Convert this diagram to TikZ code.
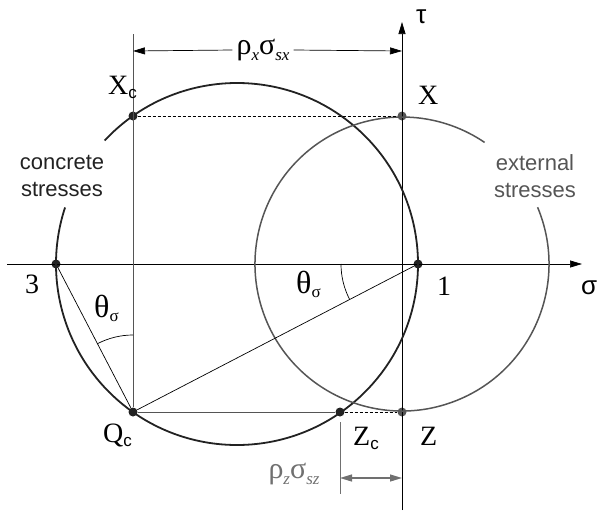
\documentclass[tikz,border=0pt]{standalone}
\usepackage{fontspec}
\setmainfont{Liberation Serif}
\newfontfamily\sansf{Liberation Sans}
\usetikzlibrary{arrows.meta}
\definecolor{dark}{HTML}{222222}
\definecolor{ext}{HTML}{555555}
\definecolor{lgray}{HTML}{707070}
\newcommand\mysub[2]{\raisebox{-#1}{\fontsize{17}{17}\selectfont #2}}
\begin{document}
\begin{tikzpicture}[x=1pt,y=-1pt,
  tipr/.style={-{Triangle[length=12pt,width=7pt]}},
  tipb/.style={{Triangle[length=12pt,width=7pt]}-{Triangle[length=12pt,width=7pt]}},
  dotb/.style={circle,fill=dark,inner sep=0pt,minimum size=9pt},
  dotg/.style={circle,fill=ext,inner sep=0pt,minimum size=9pt},
  lbl/.style={font=\fontsize{28}{28}\selectfont,inner sep=0pt,anchor=base west},
  axlbl/.style={font=\sansf\fontsize{26}{26}\selectfont,inner sep=0pt,anchor=base west},
  dimlbl/.style={font=\fontsize{30}{30}\selectfont,inner sep=0pt},
  note/.style={font=\sansf\fontsize{22}{27}\selectfont,align=center,inner sep=0pt},
  thin/.style={line width=0.7pt},
  dotted line/.style={line width=0.9pt,dash pattern=on 3pt off 2pt}
]
\useasboundingbox (0,0) rectangle (598,512);

% points
\coordinate (Cc) at (237,264);
\coordinate (Ce) at (402,264);
\node[dotb] (P3) at (56,264) {};
\node[dotb] (P1) at (418,264) {};
\node[dotb] (Xc) at (133,116) {};
\node[dotb] (Qc) at (133,412) {};
\node[dotb] (Zc) at (340,412) {};
\node[dotg] (X) at (402,116) {};
\node[dotg] (Z) at (402,412) {};

% axes
\coordinate (axL) at (7,264);
\coordinate (axR) at (582,264);
\coordinate (tauB) at (402,510);
\coordinate (tauT) at (402,22);
\draw[thin,tipr] (axL) -- (axR);
\draw[thin,tipr] (tauB) -- (tauT);

% circles with gaps
\draw[dark,line width=1.8pt] (Cc) ++(223:181) arc[start angle=223,end angle=558.2,radius=181];
\draw[ext,line width=1.5pt] (Ce) ++(337.3:147) arc[start angle=337.3,end angle=664.2,radius=147];

% construction lines
\coordinate (tickXc) at (133,34);
\draw[thin,ext] (tickXc) -- (Qc);
\draw[thin] (Qc) -- (P3);
\draw[thin] (Qc) -- (P1);
\draw[thin,ext] (Qc) -- (Zc);
\draw[dotted line] (Zc) -- (Z);
\draw[dotted line] (Xc) -- (X);

% angle arcs
\draw[thin] (Qc) ++(-117.5:77) arc[start angle=-117.5,end angle=-90,radius=77];
\draw[thin] (P1) ++(152.6:77) arc[start angle=152.6,end angle=180,radius=77];

% top dimension
\coordinate (dxL) at (133,51);
\coordinate (dxR) at (402,51);
\node[dimlbl] (rx) at (263,50) {ρ\mysub{0.2em}{\textit{x}}σ\mysub{0.2em}{\textit{sx}}};
\draw[thin,tipr] (rx.west) ++(-4,0) -- (dxL);
\draw[thin,tipr] (rx.east) ++(4,0) -- (dxR);

% bottom dimension
\coordinate (tickZt) at (340,422);
\coordinate (tickZb) at (340,494);
\coordinate (dzL) at (340,478);
\coordinate (dzR) at (402,478);
\draw[lgray,line width=1pt] (tickZt) -- (tickZb);
\draw[lgray,line width=1.2pt,tipb] (dzL) -- (dzR);
\node[dimlbl,text=lgray] (rz) at (294,474) {ρ\mysub{0.2em}{\textit{z}}σ\mysub{0.2em}{\textit{sz}}};

% labels
\node[lbl] (lXc) at (108,94) {X\mysub{0.15em}{\sansf c}};
\node[lbl] (lX) at (418,104) {X};
\node[lbl] (l3) at (25,293) {3};
\node[lbl] (l1) at (437,295) {1};
\node[lbl] (lQc) at (103,442) {Q\mysub{0.15em}{\sansf c}};
\node[lbl] (lZc) at (353,445) {Z\mysub{0.15em}{\sansf c}};
\node[lbl] (lZ) at (420,445) {Z};
\node[lbl,font=\fontsize{32}{32}\selectfont] (th1) at (94,317) {θ\mysub{0.15em}{σ}};
\node[lbl,font=\fontsize{32}{32}\selectfont] (th2) at (296,293) {θ\mysub{0.15em}{σ}};
\node[axlbl] (lsig) at (581,294) {σ};
\node[axlbl] (ltau) at (416,23) {τ};
\node[note,text=dark] (conc) at (62,176) {concrete\\stresses};
\node[note,text=ext] (extn) at (535,176) {external\\stresses};
\end{tikzpicture}
\end{document}
